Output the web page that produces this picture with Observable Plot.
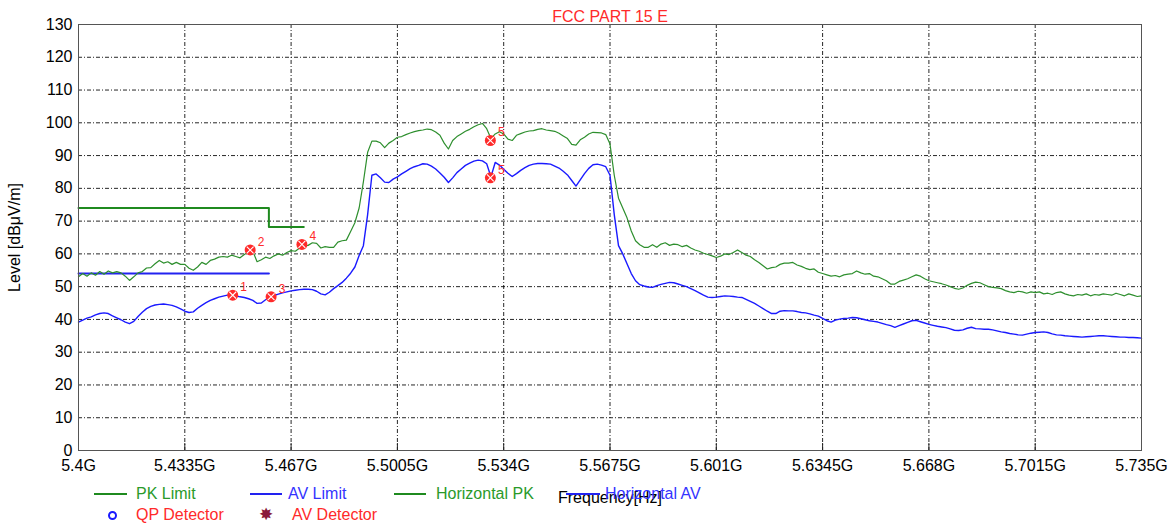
<!DOCTYPE html>
<html>
<head>
<meta charset="utf-8">
<script src="https://cdn.jsdelivr.net/npm/d3@7"></script>
<script src="https://cdn.jsdelivr.net/npm/@observablehq/plot@0.6"></script>
<style>
  html, body { margin: 0; padding: 0; background: #fff; }
  #wrap { position: relative; width: 1173px; height: 527px; font-family: "Liberation Sans", Arial, sans-serif; }
  #legend .t { position: absolute; font-size: 16px; line-height: 18px; white-space: nowrap; }
  #legend .sw { position: absolute; height: 2px; }
</style>
</head>
<body>
<div id="wrap">
  <div id="chart"></div>
  <div id="legend"></div>
</div>
<script>
// ---------- data ----------
const title = "FCC PART 15 E";
const xTicks = [5.4, 5.4335, 5.467, 5.5005, 5.534, 5.5675, 5.601, 5.6345, 5.668, 5.7015, 5.735];
const xTickLabels = ["5.4G", "5.4335G", "5.467G", "5.5005G", "5.534G", "5.5675G", "5.601G", "5.6345G", "5.668G", "5.7015G", "5.735G"];
const yTicks = [0, 10, 20, 30, 40, 50, 60, 70, 80, 90, 100, 110, 120, 130];

// sweep: 251 points from 5.4 GHz, 1.34 MHz apart
const sweepStart = 5.4;
const sweepStep = 0.00134;

// Horizontal PK trace (dBuV/m)
const pkTrace = [
  53.0, 54.0, 53.2, 54.2, 53.5, 54.6, 53.8, 54.8, 54.2, 54.6, 54.2, 53.2, 51.9, 53.0, 54.2, 54.6, 55.7, 55.8, 57.0, 58.0, 57.2, 57.6, 56.8, 57.4, 56.8,
  56.8, 55.6, 55.0, 56.0, 57.4, 56.8, 58.0, 58.4, 59.0, 59.2, 59.0, 59.6, 59.2, 58.8, 59.8, 60.6, 60.8, 57.6, 58.2, 59.0, 58.6, 59.4, 60.0, 59.6, 60.4,
  61.0, 60.8, 61.8, 62.4, 62.6, 63.4, 63.2, 61.8, 62.2, 62.0, 62.0, 63.6, 64.0, 64.2, 66.8, 69.5, 74.0, 82.0, 91.0, 94.4, 94.4, 93.9, 92.4, 93.8, 94.6,
  95.6, 95.8, 96.4, 96.9, 97.3, 97.6, 97.8, 98.1, 97.9, 97.2, 96.2, 93.8, 92.0, 94.6, 95.8, 96.6, 97.4, 98.0, 98.8, 99.4, 99.8, 98.2, 95.2, 96.6, 97.3,
  96.6, 95.0, 94.6, 96.2, 96.7, 97.2, 97.5, 97.6, 98.0, 98.2, 97.8, 97.6, 97.4, 96.8, 96.0, 95.2, 93.4, 93.2, 94.8, 95.6, 96.6, 97.1, 97.0, 96.9, 96.4,
  93.5, 84.0, 77.0, 74.0, 71.0, 67.0, 64.0, 62.8, 62.0, 62.0, 62.8, 62.0, 63.0, 63.4, 62.6, 63.0, 62.8, 62.2, 62.6, 61.8, 61.2, 60.8, 60.2, 59.8, 59.4,
  58.9, 59.3, 60.0, 59.8, 60.4, 61.2, 60.4, 59.6, 59.2, 58.2, 57.4, 56.4, 55.4, 55.8, 56.0, 56.8, 57.2, 57.2, 57.4, 56.6, 56.2, 55.6, 55.2, 55.4, 54.4,
  54.0, 53.6, 53.2, 53.4, 53.0, 53.6, 53.8, 54.0, 54.8, 54.2, 53.8, 54.0, 53.2, 53.0, 52.4, 51.8, 50.8, 50.8, 51.6, 52.0, 52.4, 53.0, 53.6, 53.2, 52.4,
  51.8, 51.5, 51.2, 50.9, 50.5, 50.0, 49.5, 49.2, 49.6, 50.4, 51.0, 51.4, 51.2, 50.6, 50.0, 49.8, 49.6, 49.4, 48.8, 48.4, 48.2, 48.6, 48.4, 48.0, 48.4,
  48.2, 48.4, 47.8, 48.0, 47.6, 48.2, 48.4, 47.8, 47.4, 47.2, 47.6, 47.4, 47.8, 47.2, 47.6, 47.4, 47.8, 47.6, 47.4, 48.0, 47.6, 47.2, 47.8, 47.4, 47.0,
  47.2
];

// Horizontal AV trace (dBuV/m)
const avTrace = [
  39.2, 39.8, 40.4, 40.8, 41.4, 41.8, 42.0, 41.8, 41.1, 40.5, 39.9, 39.2, 38.7, 39.4, 40.9, 42.2, 43.3, 44.0, 44.4, 44.6, 44.7, 44.5, 44.3, 43.8, 43.2,
  42.5, 42.1, 42.3, 43.4, 44.3, 45.1, 45.8, 46.3, 46.8, 47.1, 47.4, 47.5, 47.2, 46.9, 46.7, 46.3, 45.8, 44.9, 45.0, 46.0, 46.8, 47.3, 47.7, 48.1, 48.4,
  48.7, 48.9, 49.1, 49.2, 49.2, 49.1, 48.6, 47.8, 47.5, 48.3, 49.4, 50.3, 51.3, 52.6, 54.1, 56.0, 59.5, 62.5, 72.0, 84.0, 84.4, 83.2, 81.9, 81.8, 82.8,
  83.5, 84.4, 85.2, 86.0, 86.6, 87.0, 87.5, 87.4, 86.8, 85.9, 84.7, 83.4, 81.8, 83.2, 84.8, 85.9, 87.0, 87.7, 88.3, 88.6, 88.4, 87.5, 83.5, 87.9, 87.1,
  85.8, 84.6, 83.6, 84.5, 85.5, 86.3, 87.0, 87.4, 87.6, 87.6, 87.5, 87.4, 86.8, 86.2, 85.2, 84.1, 82.4, 80.7, 82.6, 84.5, 86.1, 87.2, 87.4, 87.1, 86.6,
  84.0, 72.0, 62.5, 60.0, 57.0, 54.0, 51.8, 50.6, 50.2, 49.9, 49.8, 50.3, 50.7, 51.0, 51.3, 51.2, 50.8, 50.4, 50.0, 49.4, 48.8, 48.1, 47.4, 46.8, 46.7,
  46.8, 47.0, 47.2, 47.1, 47.0, 46.8, 46.7, 46.1, 45.5, 44.9, 44.1, 43.3, 42.5, 41.8, 41.8, 42.5, 42.7, 42.6, 42.6, 42.4, 42.1, 42.0, 41.7, 41.3, 41.0,
  40.3, 39.6, 39.2, 39.8, 40.1, 40.3, 40.4, 40.6, 40.5, 40.2, 39.9, 39.6, 39.4, 39.2, 38.8, 38.4, 38.1, 37.6, 38.1, 38.6, 39.1, 39.6, 39.7, 39.3, 38.9,
  38.5, 38.2, 37.9, 37.7, 37.5, 37.1, 36.7, 36.6, 36.8, 37.3, 37.6, 37.2, 37.1, 37.0, 37.0, 36.8, 36.5, 36.2, 36.0, 35.7, 35.5, 35.3, 35.2, 35.5, 35.8,
  36.0, 36.1, 36.2, 36.0, 35.6, 35.3, 35.2, 35.0, 34.9, 34.8, 34.7, 34.6, 34.7, 34.8, 34.9, 35.0, 35.0, 34.9, 34.8, 34.7, 34.6, 34.6, 34.5, 34.5, 34.4,
  34.3
];

// limit lines
const pkLimitFreq = [5.4, 5.46, 5.46, 5.471];
const pkLimitLevel = [74, 74, 68.2, 68.2];
const avLimitFreq = [5.4, 5.46];
const avLimitLevel = [54, 54];

// marked points
const markerIds = ["1", "2", "3", "4", "5", "5"];
const markerFreq = [5.4486, 5.4541, 5.4607, 5.4704, 5.5298, 5.5298];
const markerLevel = [47.4, 61.2, 46.9, 62.9, 94.6, 83.2];

// ---------- tables ----------
const traceRows = pkTrace.map((v, i) => ({f: sweepStart + i * sweepStep, pk: v, av: avTrace[i]}));
const pkLimit = pkLimitFreq.map((f, i) => ({f, v: pkLimitLevel[i]}));
const avLimit = avLimitFreq.map((f, i) => ({f, v: avLimitLevel[i]}));
const markers = markerIds.map((n, i) => ({n, f: markerFreq[i], v: markerLevel[i]}));

const green = "#2e8f2e", greenLim = "#1f8a1f", blue = "#1a1aff", blueLim = "#2222f0", red = "#ff2a2a";
const gridStyle = {stroke: "#000", strokeOpacity: 0.85, strokeWidth: 1, strokeDasharray: "4,2,1,2"};

const chart = Plot.plot({
  width: 1173,
  height: 527,
  marginLeft: 78,
  marginRight: 32,
  marginTop: 24,
  marginBottom: 77,
  x: {domain: [5.4, 5.735]},
  y: {domain: [0, 130]},
  style: {background: "#fff", color: "#000", fontSize: "16px", fontFamily: "'Liberation Sans', Arial, sans-serif"},
  marks: [
    Plot.gridY(yTicks, gridStyle),
    Plot.gridX(xTicks, gridStyle),
    Plot.axisY(yTicks, {tickSize: 0, tickPadding: 6, label: "Level [dBμV/m]", labelAnchor: "center", labelOffset: 70, labelArrow: "none"}),
    Plot.axisX(xTicks, {tickSize: 0, tickPadding: 9, tickFormat: d => xTickLabels[xTicks.indexOf(d)], label: "Frequency[Hz]", labelAnchor: "center", labelOffset: 52, labelArrow: "none"}),
    Plot.axisX(xTicks, {tickSize: 7, dy: -7, tickFormat: () => "", label: null, stroke: "#222"}),
    Plot.line(pkLimit, {x: "f", y: "v", stroke: greenLim, strokeWidth: 2}),
    Plot.line(avLimit, {x: "f", y: "v", stroke: blueLim, strokeWidth: 2}),
    Plot.line(traceRows, {x: "f", y: "pk", stroke: green, strokeWidth: 1.2}),
    Plot.line(traceRows, {x: "f", y: "av", stroke: blue, strokeWidth: 1.4}),
    Plot.dot(markers, {x: "f", y: "v", r: 5.5, fill: red, stroke: "none"}),
    Plot.dot(markers, {x: "f", y: "v", r: 3.2, symbol: "times", stroke: "#fff", strokeWidth: 1.1}),
    Plot.text(markers, {x: "f", y: "v", text: "n", dx: 11, dy: -8, fill: red, fontSize: 12}),
    Plot.frame({stroke: "#555"}),
    Plot.text([title], {frameAnchor: "top", dy: -14, fill: red, fontSize: 16})
  ]
});
document.getElementById("chart").appendChild(chart);

// ---------- legend ----------
const legendItems = [
  {type: "line", color: greenLim, left: 94, width: 33, row: 0, text: "PK Limit", textLeft: 136, textColor: "#2a9a2a"},
  {type: "line", color: blueLim, left: 250, width: 32, row: 0, text: "AV Limit", textLeft: 288, textColor: "#3333ff"},
  {type: "line", color: greenLim, left: 394, width: 32, row: 0, text: "Horizontal PK", textLeft: 436, textColor: "#2a9a2a"},
  {type: "line", color: blueLim, left: 566, width: 34, row: 0, text: "Horizontal AV", textLeft: 605, textColor: "#3333ff"},
  {type: "circle", color: "#1a1aff", left: 108, row: 1, text: "QP Detector", textLeft: 136, textColor: red},
  {type: "star", color: "#8b1a3a", left: 259, row: 1, text: "AV Detector", textLeft: 292, textColor: red}
];
const legend = document.getElementById("legend");
const rowCenter = [494, 515];
for (const it of legendItems) {
  const c = rowCenter[it.row];
  if (it.type === "line") {
    const s = document.createElement("div");
    s.className = "sw";
    s.style.left = it.left + "px"; s.style.width = it.width + "px";
    s.style.top = (c - 1) + "px"; s.style.background = it.color;
    legend.appendChild(s);
  } else if (it.type === "circle") {
    const s = document.createElement("div");
    s.style.position = "absolute";
    s.style.left = it.left + "px"; s.style.top = (c - 4) + "px";
    s.style.width = "5px"; s.style.height = "5px";
    s.style.border = "2px solid " + it.color; s.style.borderRadius = "50%";
    legend.appendChild(s);
  } else {
    const s = document.createElement("div");
    s.className = "t";
    s.style.left = it.left + "px"; s.style.top = (c - 10) + "px";
    s.style.color = it.color; s.style.fontSize = "17px"; s.style.fontFamily = "'DejaVu Sans', sans-serif";
    s.textContent = "✸";
    legend.appendChild(s);
  }
  const t = document.createElement("div");
  t.className = "t";
  t.style.left = it.textLeft + "px"; t.style.top = (c - 9) + "px";
  t.style.color = it.textColor;
  t.textContent = it.text;
  legend.appendChild(t);
}
</script>
</body>
</html>
